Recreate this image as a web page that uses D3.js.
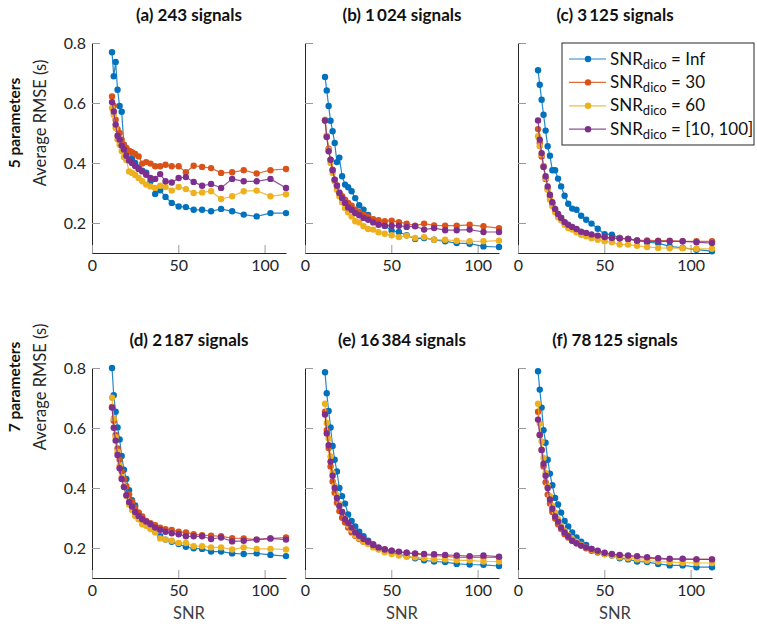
<!DOCTYPE html>
<html>
<head>
<meta charset="utf-8">
<script src="https://cdn.jsdelivr.net/npm/d3@7"></script>
<style>
  body { margin: 0; background: #fff; }
  text { font-family: Lato, "Open Sans", sans-serif; }
</style>
</head>
<body>
<script>
// SNR values on the x axis (same for every panel)
var snr = [11.6, 12.6, 13.7, 14.8, 16.0, 17.2, 18.5, 19.9, 21.5, 23.2, 25.0, 27.0, 29.1, 31.4, 33.9,
           36.6, 39.5, 42.6, 46.2, 50.2, 54.4, 58.9, 63.8, 69.0, 74.8, 81.2, 87.9, 95.4, 103.4, 112.4];

var panelTitles = ["(a) 243 signals", "(b) 1\u2009024 signals", "(c) 3\u2009125 signals",
                   "(d) 2\u2009187 signals", "(e) 16\u2009384 signals", "(f) 78\u2009125 signals"];
var rowLabels = ["5 parameters", "7 parameters"];
var seriesNames = ["Inf", "30", "60", "[10, 100]"];
var seriesColors = ["#0072BD", "#D95319", "#EDB120", "#7E2F8E"];
var xTicks = [0, 50, 100];
var yTicks = [0.2, 0.4, 0.6, 0.8];

// (a) 243 signals
var a_inf = [0.769, 0.689, 0.737, 0.644, 0.590, 0.571, 0.460, 0.440, 0.440, 0.415, 0.400, 0.385, 0.374, 0.368, 0.339,
             0.297, 0.309, 0.287, 0.267, 0.255, 0.253, 0.244, 0.244, 0.239, 0.247, 0.239, 0.228, 0.222, 0.233, 0.233];
var a_30  = [0.622, 0.591, 0.544, 0.513, 0.500, 0.478, 0.461, 0.450, 0.440, 0.436, 0.430, 0.422, 0.398, 0.403, 0.398,
             0.389, 0.389, 0.394, 0.389, 0.389, 0.369, 0.391, 0.387, 0.383, 0.367, 0.369, 0.376, 0.365, 0.376, 0.380];
var a_60  = [0.583, 0.561, 0.517, 0.478, 0.461, 0.440, 0.420, 0.410, 0.372, 0.367, 0.360, 0.350, 0.339, 0.328, 0.322,
             0.317, 0.324, 0.320, 0.308, 0.320, 0.313, 0.300, 0.302, 0.306, 0.280, 0.289, 0.306, 0.308, 0.289, 0.296];
var a_rng = [0.603, 0.572, 0.528, 0.491, 0.478, 0.458, 0.445, 0.424, 0.408, 0.400, 0.390, 0.380, 0.372, 0.361, 0.350,
             0.347, 0.363, 0.339, 0.335, 0.350, 0.353, 0.337, 0.324, 0.330, 0.317, 0.347, 0.339, 0.339, 0.347, 0.317];

// (b) 1 024 signals
var b_inf = [0.687, 0.642, 0.590, 0.541, 0.506, 0.467, 0.403, 0.418, 0.356, 0.328, 0.319, 0.306, 0.283, 0.259, 0.244,
             0.227, 0.211, 0.200, 0.191, 0.174, 0.170, 0.159, 0.147, 0.150, 0.144, 0.139, 0.133, 0.131, 0.122, 0.120];
var b_30  = [0.542, 0.489, 0.448, 0.411, 0.378, 0.344, 0.326, 0.302, 0.289, 0.278, 0.267, 0.258, 0.244, 0.237, 0.228,
             0.220, 0.213, 0.209, 0.206, 0.208, 0.203, 0.198, 0.191, 0.198, 0.192, 0.191, 0.191, 0.194, 0.189, 0.183];
var b_60  = [0.544, 0.491, 0.444, 0.400, 0.367, 0.339, 0.311, 0.289, 0.269, 0.250, 0.236, 0.222, 0.206, 0.202, 0.189,
             0.180, 0.178, 0.169, 0.164, 0.159, 0.153, 0.158, 0.150, 0.153, 0.144, 0.144, 0.141, 0.139, 0.139, 0.141];
var b_rng = [0.542, 0.487, 0.439, 0.411, 0.376, 0.344, 0.324, 0.300, 0.283, 0.267, 0.252, 0.244, 0.233, 0.226, 0.217,
             0.211, 0.202, 0.194, 0.191, 0.191, 0.191, 0.187, 0.189, 0.178, 0.183, 0.176, 0.176, 0.178, 0.170, 0.170];

// (c) 3 125 signals
var c_inf = [0.709, 0.661, 0.611, 0.561, 0.508, 0.456, 0.424, 0.376, 0.376, 0.348, 0.322, 0.291, 0.264, 0.248, 0.244,
             0.224, 0.211, 0.198, 0.181, 0.163, 0.161, 0.150, 0.147, 0.142, 0.136, 0.133, 0.122, 0.117, 0.111, 0.106];
var c_30  = [0.513, 0.467, 0.422, 0.389, 0.347, 0.313, 0.289, 0.264, 0.244, 0.228, 0.217, 0.202, 0.191, 0.183, 0.178,
             0.167, 0.164, 0.158, 0.156, 0.152, 0.150, 0.150, 0.147, 0.142, 0.142, 0.141, 0.141, 0.139, 0.139, 0.139];
var c_60  = [0.489, 0.456, 0.428, 0.389, 0.350, 0.311, 0.278, 0.256, 0.236, 0.219, 0.209, 0.194, 0.183, 0.178, 0.169,
             0.161, 0.156, 0.149, 0.144, 0.139, 0.136, 0.128, 0.128, 0.124, 0.120, 0.117, 0.116, 0.116, 0.114, 0.114];
var c_rng = [0.542, 0.478, 0.433, 0.387, 0.356, 0.322, 0.294, 0.269, 0.247, 0.230, 0.217, 0.203, 0.194, 0.187, 0.180,
             0.171, 0.167, 0.162, 0.158, 0.153, 0.150, 0.148, 0.147, 0.141, 0.139, 0.139, 0.139, 0.139, 0.136, 0.133];

// (d) 2 187 signals
var d_inf = [0.800, 0.709, 0.654, 0.602, 0.562, 0.507, 0.461, 0.430, 0.393, 0.359, 0.342, 0.318, 0.299, 0.285, 0.268,
             0.257, 0.239, 0.228, 0.221, 0.213, 0.204, 0.199, 0.197, 0.188, 0.188, 0.182, 0.180, 0.182, 0.177, 0.173];
var d_30  = [0.670, 0.624, 0.577, 0.532, 0.494, 0.455, 0.430, 0.406, 0.378, 0.354, 0.334, 0.318, 0.305, 0.290, 0.283,
             0.276, 0.268, 0.263, 0.260, 0.254, 0.252, 0.246, 0.243, 0.241, 0.239, 0.233, 0.232, 0.228, 0.232, 0.235];
var d_60  = [0.701, 0.632, 0.569, 0.521, 0.474, 0.437, 0.406, 0.373, 0.345, 0.327, 0.307, 0.296, 0.279, 0.274, 0.263,
             0.252, 0.232, 0.228, 0.224, 0.217, 0.217, 0.206, 0.206, 0.202, 0.202, 0.195, 0.202, 0.197, 0.197, 0.195];
var d_rng = [0.668, 0.601, 0.558, 0.510, 0.466, 0.430, 0.403, 0.376, 0.353, 0.338, 0.320, 0.307, 0.296, 0.288, 0.279,
             0.268, 0.261, 0.254, 0.249, 0.246, 0.239, 0.239, 0.239, 0.230, 0.235, 0.222, 0.224, 0.228, 0.232, 0.228];

// (e) 16 384 signals
var e_inf = [0.786, 0.716, 0.657, 0.602, 0.540, 0.494, 0.455, 0.400, 0.373, 0.348, 0.312, 0.290, 0.272, 0.254, 0.239,
             0.224, 0.213, 0.199, 0.195, 0.186, 0.180, 0.173, 0.166, 0.159, 0.155, 0.153, 0.147, 0.145, 0.144, 0.140];
var e_30  = [0.654, 0.593, 0.533, 0.472, 0.422, 0.384, 0.351, 0.323, 0.301, 0.285, 0.268, 0.252, 0.241, 0.230, 0.221,
             0.216, 0.208, 0.200, 0.195, 0.191, 0.186, 0.184, 0.180, 0.177, 0.175, 0.173, 0.169, 0.169, 0.169, 0.169];
var e_60  = [0.681, 0.617, 0.565, 0.505, 0.450, 0.408, 0.375, 0.346, 0.320, 0.298, 0.276, 0.261, 0.243, 0.232, 0.221,
             0.213, 0.202, 0.195, 0.186, 0.180, 0.175, 0.171, 0.169, 0.166, 0.162, 0.162, 0.159, 0.159, 0.155, 0.155];
var e_rng = [0.645, 0.582, 0.543, 0.488, 0.441, 0.400, 0.367, 0.340, 0.320, 0.296, 0.283, 0.268, 0.252, 0.241, 0.230,
             0.221, 0.210, 0.202, 0.195, 0.191, 0.188, 0.184, 0.182, 0.180, 0.179, 0.177, 0.175, 0.173, 0.175, 0.171];

// (f) 78 125 signals
var f_inf = [0.789, 0.728, 0.668, 0.593, 0.551, 0.494, 0.448, 0.409, 0.367, 0.345, 0.318, 0.290, 0.272, 0.252, 0.235,
             0.221, 0.210, 0.197, 0.186, 0.180, 0.175, 0.166, 0.162, 0.155, 0.153, 0.147, 0.142, 0.142, 0.136, 0.136];
var f_30  = [0.654, 0.577, 0.527, 0.472, 0.419, 0.378, 0.348, 0.320, 0.298, 0.279, 0.263, 0.246, 0.235, 0.224, 0.216,
             0.208, 0.199, 0.191, 0.186, 0.180, 0.177, 0.175, 0.173, 0.169, 0.166, 0.164, 0.162, 0.162, 0.162, 0.162];
var f_60  = [0.681, 0.615, 0.555, 0.500, 0.450, 0.406, 0.373, 0.340, 0.318, 0.296, 0.274, 0.257, 0.243, 0.230, 0.221,
             0.211, 0.202, 0.195, 0.188, 0.180, 0.175, 0.169, 0.166, 0.162, 0.158, 0.155, 0.153, 0.151, 0.150, 0.150];
var f_rng = [0.628, 0.577, 0.527, 0.481, 0.441, 0.400, 0.362, 0.331, 0.305, 0.288, 0.268, 0.252, 0.239, 0.224, 0.216,
             0.208, 0.202, 0.197, 0.191, 0.184, 0.180, 0.177, 0.175, 0.173, 0.169, 0.166, 0.164, 0.164, 0.162, 0.162];

var panelSeries = [
    [a_inf, a_30, a_60, a_rng],
    [b_inf, b_30, b_60, b_rng],
    [c_inf, c_30, c_60, c_rng],
    [d_inf, d_30, d_60, d_rng],
    [e_inf, e_30, e_60, e_rng],
    [f_inf, f_30, f_60, f_rng]
];

var svgWidth = 757, svgHeight = 628;
var colX = [92, 305, 518], rowY = [43, 368];
var pw = 194, ph = 210;
var axisColor = "#262626";

var svg = d3.select("body").append("svg")
    .attr("width", svgWidth).attr("height", svgHeight);

var x = d3.scaleLinear().domain([0, 112.4]).range([0, pw]);
var y = d3.scaleLinear().domain([0.1, 0.8]).range([ph, 0]);

var line = d3.line()
    .x(function (d) { return x(d[0]); })
    .y(function (d) { return y(d[1]); });

panelSeries.forEach(function (series, p) {
    var col = p % 3, row = Math.floor(p / 3);
    var g = svg.append("g")
        .attr("transform", "translate(" + colX[col] + "," + rowY[row] + ")");

    // axes, ticks pointing inward
    var yAxis = d3.axisLeft(y).tickValues(yTicks).tickSizeInner(-8).tickSizeOuter(0).tickPadding(6)
        .tickFormat(col === 0 ? d3.format(".1f") : function () { return ""; });
    var xAxis = d3.axisBottom(x).tickValues(xTicks).tickSizeInner(-8).tickSizeOuter(0).tickPadding(7)
        .tickFormat(d3.format("d"));

    var ga = g.append("g").call(yAxis);
    var gb = g.append("g").attr("transform", "translate(0," + ph + ")").call(xAxis);
    [ga, gb].forEach(function (a) {
        a.select(".domain").attr("stroke", axisColor).attr("stroke-width", 1);
        a.selectAll(".tick line").attr("stroke", "#9a9a9a").attr("stroke-width", 1);
        a.selectAll(".tick text").attr("fill", axisColor)
            .style("font-family", "Lato, sans-serif").style("font-size", "16px");
    });

    // series: lines then markers
    series.forEach(function (vals, s) {
        var pts = snr.map(function (v, i) { return [v, vals[i]]; });
        g.append("path").datum(pts)
            .attr("fill", "none")
            .attr("stroke", seriesColors[s])
            .attr("stroke-width", 1.2)
            .attr("stroke-opacity", 0.85)
            .attr("d", line);
        g.selectAll(".m" + s).data(pts).enter().append("circle")
            .attr("class", "m" + s)
            .attr("cx", function (d) { return x(d[0]); })
            .attr("cy", function (d) { return y(d[1]); })
            .attr("r", 3.2)
            .attr("fill", seriesColors[s]);
    });

    // title
    g.append("text")
        .attr("x", pw / 2).attr("y", -22)
        .attr("text-anchor", "middle")
        .style("font-size", "17px").style("font-weight", "bold")
        .attr("fill", "#111")
        .text(panelTitles[p]);

    if (row === 1) {
        g.append("text")
            .attr("x", pw / 2).attr("y", ph + 41)
            .attr("text-anchor", "middle")
            .style("font-size", "16.5px")
            .attr("fill", "#404040")
            .text("SNR");
    }
});

// row labels
rowLabels.forEach(function (lab, r) {
    var cy = [123, 387][r];
    svg.append("text")
        .attr("transform", "translate(20," + cy + ") rotate(-90)")
        .attr("text-anchor", "middle")
        .style("font-size", "15.5px").style("font-weight", "bold")
        .attr("fill", "#111")
        .text(lab);
    svg.append("text")
        .attr("transform", "translate(46," + cy + ") rotate(-90)")
        .attr("text-anchor", "middle")
        .style("font-size", "16.5px")
        .attr("fill", "#262626")
        .text("Average RMSE (s)");
});

// legend in panel (c)
var lg = svg.append("g").attr("transform", "translate(562,43)");
lg.append("rect")
    .attr("width", 192).attr("height", 102)
    .attr("fill", "#fff").attr("stroke", axisColor).attr("stroke-width", 1);
seriesNames.forEach(function (name, s) {
    var cy = 16 + s * 23.4;
    lg.append("line")
        .attr("x1", 7).attr("x2", 44).attr("y1", cy).attr("y2", cy)
        .attr("stroke", seriesColors[s]).attr("stroke-width", 1.2).attr("stroke-opacity", 0.85);
    lg.append("circle").attr("cx", 26).attr("cy", cy).attr("r", 3.2).attr("fill", seriesColors[s]);
    var t = lg.append("text")
        .attr("x", 48).attr("y", cy + 5.5)
        .style("font-size", "17px").attr("fill", "#111");
    t.append("tspan").text("SNR");
    t.append("tspan").attr("dy", 4).style("font-size", "13px").text("dico");
    t.append("tspan").attr("dy", -4).text(" = " + name);
});
</script>
</body>
</html>
